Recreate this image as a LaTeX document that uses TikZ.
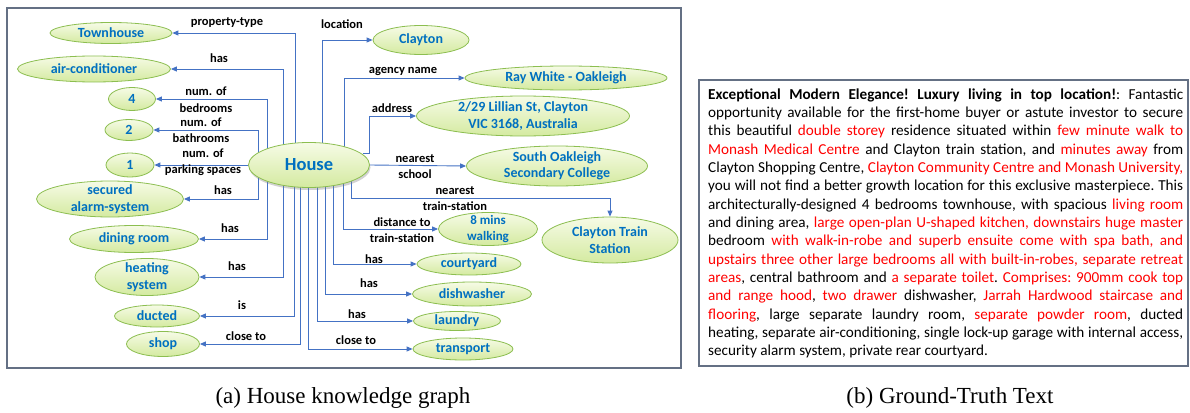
\documentclass[tikz,border=0pt]{standalone}
\usepackage{fontspec}
\setmainfont{Carlito}
\newfontfamily\capfont{Liberation Serif}
\usetikzlibrary{shapes.geometric,arrows.meta,shadows}
\pgfdeclarelayer{back}
\pgfdeclarelayer{bg}
\pgfsetlayers{back,bg,main}
\definecolor{nodeblue}{RGB}{0,112,192}
\definecolor{edgeblue}{RGB}{68,114,196}
\definecolor{entborder}{RGB}{140,190,80}
\definecolor{enttop}{RGB}{246,251,230}
\definecolor{entbot}{RGB}{212,234,160}
\definecolor{framegray}{RGB}{100,112,132}
\definecolor{txtred}{RGB}{255,0,0}
\newcommand\redtxt[1]{\textcolor{txtred}{#1}}
\begin{document}
\begin{tikzpicture}[x=1pt,y=-1pt,
  ent/.style={ellipse, draw=entborder, line width=0.8pt, top color=enttop, bottom color=entbot,
    inner sep=0pt, font=\fontsize{14}{16.5}\selectfont\bfseries, text=nodeblue, align=center},
  ent2/.style={ent, inner ysep=-3pt},
  rel/.style={font=\fontsize{12.5}{16}\selectfont\bfseries, align=center, inner sep=0pt, text=black},
  edge/.style={draw=edgeblue, line width=0.9pt, -{Triangle[length=6pt,width=5pt]}},
  frame/.style={draw=framegray, line width=1.2pt}]
\useasboundingbox (0,0) rectangle (1190,412);
\begin{pgfonlayer}{back}
\fill[white] (0,0) rectangle (1190,412);
\end{pgfonlayer}
\draw[frame] (7,8) rectangle (681,368);
\draw[frame] (699,80) rectangle (1188,366);

% entities
\node[ent, minimum width=121pt, minimum height=45pt, font=\fontsize{18.5}{20}\selectfont\bfseries,
  drop shadow={opacity=0.35, shadow xshift=1pt, shadow yshift=-2.5pt}] (house) at (309,165) {House};
\node[ent, minimum width=122pt, minimum height=21pt] (town) at (111,33) {Townhouse};
\node[ent, minimum width=153pt, minimum height=26pt] (air) at (94,69) {air-conditioner};
\node[ent, minimum width=47pt, minimum height=23pt] (n4) at (132,99) {4};
\node[ent, minimum width=48pt, minimum height=21pt] (n2) at (129,130) {2};
\node[ent, minimum width=48pt, minimum height=24pt] (n1) at (130,165) {1};
\node[ent2, minimum width=147pt, minimum height=36pt] (alarm) at (110,199) {secured\\alarm-system};
\node[ent, minimum width=129pt, minimum height=27pt] (dining) at (134,239) {dining room};
\node[ent2, minimum width=104pt, minimum height=37pt] (heating) at (147,277) {heating\\system};
\node[ent, minimum width=85pt, minimum height=22pt] (ducted) at (157,316) {ducted};
\node[ent, minimum width=73pt, minimum height=25pt] (shop) at (163,344) {shop};
\node[ent, minimum width=96pt, minimum height=29pt] (clayton) at (421,40) {Clayton};
\node[ent, minimum width=202pt, minimum height=24pt] (ray) at (566,78) {Ray White - Oakleigh};
\node[ent2, minimum width=213pt, minimum height=40pt] (addr) at (523,116) {2/29 Lillian St, Clayton\\VIC 3168, Australia};
\node[ent2, minimum width=181pt, minimum height=40pt] (school) at (557,166) {South Oakleigh\\Secondary College};
\node[ent2, minimum width=136pt, minimum height=46pt] (train) at (610,240) {Clayton Train\\Station};
\node[ent2, minimum width=99pt, minimum height=33pt, font=\fontsize{13}{16}\selectfont\bfseries] (walk) at (488,229) {8 mins\\walking};
\node[ent, minimum width=104pt, minimum height=22pt] (court) at (469,264) {courtyard};
\node[ent, minimum width=119pt, minimum height=24pt] (dish) at (472,294) {dishwasher};
\node[ent, minimum width=87pt, minimum height=19pt] (laundry) at (457,321) {laundry};
\node[ent, minimum width=100pt, minimum height=22pt] (transport) at (463,349) {transport};

% connectors
\begin{pgfonlayer}{bg}
\draw[edge] (house.center) ++(-14,0) |- (town.east);
\draw[edge] (house.center) ++(-26,0) |- (air.east);
\draw[edge] (house.center) ++(-42,0) |- (n4.east);
\draw[edge] (house.center) ++(-51,0) |- (n2.east);
\draw[edge] (house.west) -- (n1.east);
\draw[edge] (house.center) ++(-51,0) |- (alarm.east);
\draw[edge] (house.center) ++(-42,0) |- (dining.east);
\draw[edge] (house.center) ++(-26,0) |- (heating.east);
\draw[edge] (house.center) ++(-15,0) |- (ducted.east);
\draw[edge] (house.center) ++(-9,0) |- (shop.east);
\draw[edge] (house.center) ++(13,0) |- (clayton.west);
\draw[edge] (house.center) ++(35,0) |- (ray.west);
\draw[edge] (house.center) ++(54,-12) -- ++(6,0) |- (addr.west);
\draw[edge] (house.east) -- (school.west);
\draw[edge] (house.center) ++(42,0) |- ([yshift=18pt]train.north) -- (train.north);
\draw[edge] (house.center) ++(34,0) |- (walk.west);
\draw[edge] (house.center) ++(24,0) |- (court.west);
\draw[edge] (house.center) ++(16,0) |- (dish.west);
\draw[edge] (house.center) ++(8,0) |- (laundry.west);
\draw[edge] (house.center) ++(-1,0) |- (transport.west);
\end{pgfonlayer}

% relation labels
\node[rel] (l-town) at (227,23) {property-type};
\node[rel] (l-air) at (219,58) {has};
\node[rel, font=\fontsize{12.5}{17}\selectfont\bfseries] (l-n4) at (206,100) {num. of\\bedrooms};
\node[rel] (l-n2) at (201,130) {num. of\\bathrooms};
\node[rel] (l-n1) at (203,162) {num. of\\parking spaces};
\node[rel] (l-alarm) at (223,190) {has};
\node[rel] (l-dining) at (230,228) {has};
\node[rel] (l-heating) at (237,266) {has};
\node[rel] (l-ducted) at (242,305) {is};
\node[rel] (l-shop) at (246,336) {close to};
\node[rel] (l-clayton) at (342,24) {location};
\node[rel] (l-ray) at (403,71) {agency name};
\node[rel] (l-addr) at (392,108) {address};
\node[rel] (l-school) at (415,167) {nearest\\school};
\node[rel] (l-train) at (455,199) {nearest\\train-station};
\node[rel] (l-walk) at (402,230) {distance to\\train-station};
\node[rel] (l-court) at (374,259) {has};
\node[rel] (l-dish) at (369,283) {has};
\node[rel] (l-laundry) at (357,314) {has};
\node[rel] (l-transport) at (356,340) {close to};

% ground-truth text
\node[anchor=base west, inner sep=0pt, text width=475pt, align=justify,
  font=\fontsize{15.2}{18.35}\selectfont] (gt) at (708,99)
{\frenchspacing\hyphenpenalty=10000\exhyphenpenalty=10000\tolerance=10000\emergencystretch=0pt
\textbf{Exceptional Modern Elegance! Luxury living in top location!}: Fantastic\linebreak
opportunity available for the first-home buyer or astute investor to secure\linebreak
this beautiful \redtxt{double storey} residence situated within \redtxt{few minute walk to\linebreak
Monash Medical Centre} and Clayton train station, and \redtxt{minutes away} from\linebreak
Clayton Shopping Centre, \redtxt{Clayton Community Centre and Monash University,}\linebreak
you will not find a better growth location for this exclusive masterpiece. This\linebreak
architecturally-designed 4 bedrooms townhouse, with spacious \redtxt{living room}\linebreak
and dining area, \redtxt{large open-plan U-shaped kitchen, downstairs huge master}\linebreak
bedroom \redtxt{with walk-in-robe and superb ensuite come with spa bath, and\linebreak
upstairs three other large bedrooms all with built-in-robes, separate retreat\linebreak
areas}, central bathroom and \redtxt{a separate toilet}. \redtxt{Comprises: 900mm cook top\linebreak
and range hood}, \redtxt{two drawer} dishwasher, \redtxt{Jarrah Hardwood staircase and\linebreak
flooring}, large separate laundry room, \redtxt{separate powder room}, ducted\linebreak
heating, separate air-conditioning, single lock-up garage with internal access,\linebreak
security alarm system, private rear courtyard.};

% captions
\node[anchor=base, inner sep=0pt, font=\capfont\fontsize{23}{26}\selectfont] (capa) at (343,403) {(a) House knowledge graph};
\node[anchor=base, inner sep=0pt, font=\capfont\fontsize{23}{26}\selectfont] (capb) at (950,403) {(b) Ground-Truth Text};
\end{tikzpicture}
\end{document}
